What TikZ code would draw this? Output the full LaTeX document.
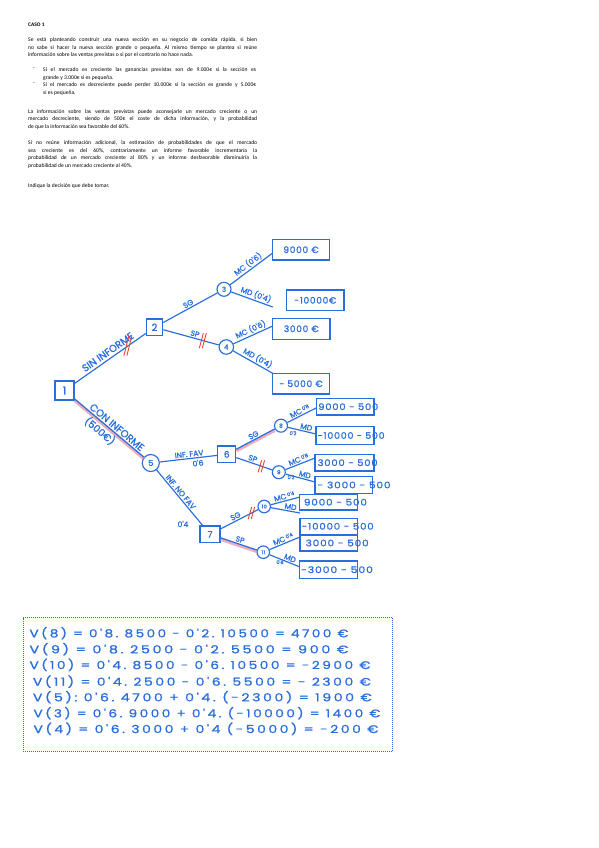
\documentclass[tikz,border=0pt]{standalone}
\usepackage{fontspec}
\usepackage{graphicx}
\usetikzlibrary{calc}
\newfontfamily\bodyf{Carlito}
\newfontfamily\hand[LetterSpace=8,FakeBold=1.1]{Poppins}
\newfontfamily\handr[FakeBold=1.1]{Poppins}
\newfontfamily\handw[LetterSpace=18,FakeBold=0.8]{Poppins}
\definecolor{inkc}{RGB}{40,110,220}
\definecolor{hlc}{RGB}{225,140,165}
\definecolor{cutc}{RGB}{232,70,50}
\newcommand\fitw[2]{\resizebox{#1}{\height}{#2}}
\newcommand\sline[1]{\makebox[229pt][s]{#1}}
\newcommand\bline[1]{\makebox[213pt][s]{#1}}
\newcommand\smallsup[1]{\raisebox{1.8pt}{\fontsize{5}{5}\selectfont #1}}
\frenchspacing
\begin{document}
\begin{tikzpicture}[x=1pt,y=-1pt,
 edge/.style={draw=inkc, line width=1.15pt},
 sqn/.style={draw=inkc, line width=1.15pt, rectangle, inner sep=0pt, text=inkc, font=\hand\fontsize{9}{9}\selectfont},
 cin/.style={draw=inkc, line width=1.15pt, circle, inner sep=0pt, text=inkc, font=\hand\fontsize{7}{7}\selectfont},
 vbox/.style={draw=inkc, line width=1.15pt, rectangle, inner sep=0pt, text=inkc, font=\hand\fontsize{9}{9}\selectfont},
 vtxt/.style={text=inkc, inner sep=0pt, anchor=west, font=\hand\fontsize{9}{9}\selectfont},
 elab/.style={text=inkc, inner sep=1.2pt, sloped, font=\handr\fontsize{7.6}{7.6}\selectfont},
 big/.style={text=inkc, inner sep=1.5pt, sloped, font=\handr\fontsize{10}{10}\selectfont},
 hili/.style={draw=hlc, line width=3.5pt, opacity=0.7, transform canvas={yshift=-1.3pt}},
 cutm/.style={draw=cutc, line width=0.9pt},
 para/.style={anchor=north west, inner sep=0pt, align=left, font=\bodyf\fontsize{5.6}{7.65}\selectfont},
 calcl/.style={anchor=base west, inner sep=0pt, text=inkc, font=\handw\fontsize{11}{11}\selectfont}
]
\useasboundingbox (0,0) rectangle (599,848);
\fill[white] (0,0) rectangle (599,848);

% ---------- statement text ----------
\node[para, font=\bodyf\bfseries\fontsize{5.4}{7}\selectfont] (title) at (28,23) {CASO 1};
\node[para] (p1) at (28,37.3) {\sline{Se está planteando construir una nueva sección en su negocio de comida rápida, si bien}\\
\sline{no sabe si hacer la nueva sección grande o pequeña. Al mismo tiempo se plantea si reúne}\\
información sobre las ventas previstas o si por el contrario no hace nada.};
\node[para] (d1) at (33,67.4) {-};
\node[para] (b1t) at (43,67.4) {\bline{Si el mercado es creciente las ganancias previstas son de 9.000€ si la sección es}\\
grande y 3.000€ si es pequeña.};
\node[para] (d2) at (33,82.4) {-};
\node[para] (b2t) at (43,82.4) {\bline{Si el mercado es decreciente puede perder 10.000€ si la sección es grande y 5.000€}\\
si es pequeña.};
\node[para] (p3) at (28,109) {\sline{La información sobre las ventas previstas puede aconsejarle un mercado creciente o un}\\
\sline{mercado decreciente, siendo de 500€ el coste de dicha información, y la probabilidad}\\
de que la información sea favorable del 60\%.};
\node[para] (p4) at (28,140.4) {\sline{Si no reúne información adicional, la estimación de probabilidades de que el mercado}\\
\sline{sea creciente es del 60\%, contrariamente un informe favorable incrementaría la}\\
\sline{probabilidad de un mercado creciente al 80\% y un informe desfavorable disminuiría la}\\
probabilidad de un mercado creciente al 40\%.};
\node[para] (p5) at (28,183) {Indique la decisión que debe tomar.};

% ---------- decision tree nodes ----------
\node[sqn, minimum size=19pt, font=\hand\fontsize{11}{11}\selectfont] (n1) at (64.5,390.5) {1};
\node[sqn, minimum size=16.5pt, font=\hand\fontsize{10}{10}\selectfont] (n2) at (154.5,327.3) {2};
\node[cin, minimum size=14pt] (n3) at (224,289.3) {3};
\node[cin, minimum size=14.5pt] (n4) at (226.3,347) {4};
\node[cin, minimum size=17pt, font=\hand\fontsize{8}{8}\selectfont] (n5) at (150.8,463) {5};
\node[sqn, minimum width=18pt, minimum height=16.7pt] (n6) at (226.7,454.3) {6};
\node[sqn, minimum width=20pt, minimum height=16.7pt] (n7) at (210,534.3) {7};
\node[cin, minimum size=13pt, font=\hand\fontsize{5.5}{5.5}\selectfont] (n8) at (281,425.7) {8};
\node[cin, minimum size=13pt, font=\hand\fontsize{5.5}{5.5}\selectfont] (n9) at (278.8,472.2) {9};
\node[cin, minimum size=12.5pt, font=\hand\fontsize{5}{5}\selectfont] (n10) at (264.2,506.5) {10};
\node[cin, minimum size=12.5pt, font=\hand\fontsize{5}{5}\selectfont] (n11) at (263.3,552.2) {11};

% value boxes (no information)
\node[vbox, minimum width=56.6pt, minimum height=20.7pt] (a1) at (301,249.7) {9000 €};
\node[vbox, minimum width=57.3pt, minimum height=20.7pt] (a2) at (315.3,300.3) {-10000€};
\node[vbox, minimum width=57.3pt, minimum height=21pt] (a3) at (301.3,328.8) {3000 €};
\node[vbox, minimum width=56.6pt, minimum height=20.7pt] (a4) at (301,383.7) {- 5000 €};

% value boxes (with information)
\node[vbox, minimum width=57.3pt, minimum height=16.7pt] (b1) at (345.3,406.7) {};
\node[vbox, minimum width=58pt, minimum height=17.6pt] (b2) at (345,435.5) {};
\node[vbox, minimum width=59pt, minimum height=16.7pt] (b3) at (344.5,462.7) {};
\node[vbox, minimum width=57.7pt, minimum height=16.6pt] (b4) at (343.8,485) {};
\node[vbox, minimum width=58pt, minimum height=15.7pt] (b5) at (328.3,502.2) {};
\node[vbox, minimum width=57.3pt, minimum height=16pt] (b6) at (328.7,526.3) {};
\node[vbox, minimum width=57.3pt, minimum height=16pt] (b7) at (328.7,543) {};
\node[vbox, minimum width=58pt, minimum height=17.3pt] (b8) at (328.3,569.7) {};
\node[vtxt] (t1) at ($(b1.west)+(2,0)$) {\fitw{60pt}{9000 - 500}};
\node[vtxt] (t2) at ($(b2.west)+(2,0)$) {\fitw{67pt}{-10000 - 500}};
\node[vtxt] (t3) at ($(b3.west)+(3,0)$) {\fitw{60pt}{3000 - 500}};
\node[vtxt] (t4) at ($(b4.west)+(3,0)$) {\fitw{73pt}{- 3000 - 500}};
\node[vtxt] (t5) at ($(b5.west)+(5,0)$) {\fitw{63pt}{9000 - 500}};
\node[vtxt] (t6) at ($(b6.west)+(2,0)$) {\fitw{72pt}{-10000 - 500}};
\node[vtxt] (t7) at ($(b7.west)+(6,0)$) {\fitw{63pt}{3000 - 500}};
\node[vtxt] (t8) at ($(b8.west)+(2,0)$) {\fitw{72pt}{-3000 - 500}};

% free ends of the chance branches
\coordinate (e3a) at (272.7,253);
\coordinate (e3b) at (272.7,307);
\coordinate (e4a) at (272.7,326);
\coordinate (e4b) at (272.7,373.3);
\coordinate (e8a) at (316,408);
\coordinate (e8b) at (316,434);
\coordinate (e9a) at (315,458);
\coordinate (e9b) at (315,482);
\coordinate (e10a) at (300,497);
\coordinate (e10b) at (300,513);
\coordinate (e11a) at (300,537);
\coordinate (e11b) at (300,567);

% highlights of the chosen path
\draw[hili] (n1) -- (n5);
\draw[hili] (n6) -- (n8);
\draw[hili] (n7) -- (n11);

% ---------- connectors ----------
\draw[edge] (n1) -- node[big, above=1pt, pos=0.52] {SIN INFORME} (n2);
\draw[edge] (n1) -- node[big, above, pos=0.56] {CON INFORME} (n5);
\node[big, rotate=-40, text=inkc] (cost) at (100,431) {(500€)};
\draw[edge] (n2) -- node[elab, above] {SG} (n3);
\draw[edge] (n2) -- node[elab, above, pos=0.55] {SP} (n4);
\draw[edge] (n3) -- node[elab, above] {MC (0'6)} (e3a);
\draw[edge] (n3) -- node[elab, above, pos=0.55] {MD (0'4)} (e3b);
\draw[edge] (n4) -- node[elab, above] {MC (0'6)} (e4a);
\draw[edge] (n4) -- node[elab, above, pos=0.55] {MD (0'4)} (e4b);
\draw[edge] (n5) -- node[elab, above, pos=0.52] {INF. FAV} (n6);
\node[elab, rotate=7] (p6) at (198,463) {0'6};
\draw[edge] (n5) -- node[elab, above, pos=0.45] {INF. NO FAV} (n7);
\node[elab] (p7) at (183,524) {0'4};
\draw[edge] (n6) -- node[elab, above] {SG} (n8);
\draw[edge] (n6) -- node[elab, above, pos=0.42] {SP} (n9);
\draw[edge] (n7) -- node[elab, above, pos=0.45] {SG} (n10);
\draw[edge] (n7) -- node[elab, above] {SP} (n11);
\draw[edge] (n8) -- node[elab, above] {MC\,\smallsup{0'8}} (e8a);
\draw[edge] (n8) -- node[elab, above, pos=0.62] {MD} (e8b);
\node[elab] (q8) at (293,434) {\smallsup{0'2}};
\draw[edge] (n9) -- node[elab, above] {MC\,\smallsup{0'8}} (e9a);
\draw[edge] (n9) -- node[elab, above, pos=0.62] {MD} (e9b);
\node[elab] (q9) at (291,478) {\smallsup{0'2}};
\draw[edge] (n10) -- node[elab, above] {MC\,\smallsup{0'4}} (e10a);
\draw[edge] (n10) -- node[elab, above, pos=0.65] {MD} (e10b);
\draw[edge] (n11) -- node[elab, above] {MC\,\smallsup{0'4}} (e11a);
\draw[edge] (n11) -- node[elab, above, pos=0.62] {MD} (e11b);
\node[elab] (q11) at (280,563) {\smallsup{0'6}};

% cut marks (rejected branches)
\draw[cutm] ($(n1)!0.71!(n2)+(-4.5,10)$) -- ++(5,-20);
\draw[cutm] ($(n1)!0.71!(n2)+(-1.5,10)$) -- ++(5,-20);
\draw[cutm] ($(n2)!0.68!(n4)+(-4,7.5)$) -- ++(4,-15);
\draw[cutm] ($(n2)!0.68!(n4)+(-1,7.5)$) -- ++(4,-15);
\draw[cutm] ($(n6)!0.67!(n9)+(-3.5,6)$) -- ++(3.5,-12);
\draw[cutm] ($(n6)!0.67!(n9)+(-0.5,6)$) -- ++(3.5,-12);
\draw[cutm] ($(n7)!0.77!(n10)+(-3.5,6)$) -- ++(3.5,-12);
\draw[cutm] ($(n7)!0.77!(n10)+(-0.5,6)$) -- ++(3.5,-12);

% ---------- calculations ----------
\node[draw=inkc, densely dotted, line width=1pt, minimum width=369.6pt, minimum height=133.7pt, inner sep=0pt, anchor=north west] (calcbox) at (22.7,617.3) {};
\node[calcl] (v8) at (29.3,637.3) {\fitw{319pt}{V(8) = 0'8. 8500 - 0'2. 10500 = 4700 €}};
\node[calcl] (v9) at (29.3,653.3) {\fitw{319pt}{V(9) = 0'8. 2500 - 0'2. 5500 = 900 €}};
\node[calcl] (v10) at (29.3,669) {\fitw{341pt}{V(10) = 0'4. 8500 - 0'6. 10500 = -2900 €}};
\node[calcl] (v11) at (32.7,685.7) {\fitw{338pt}{V(11) = 0'4. 2500 - 0'6. 5500 = - 2300 €}};
\node[calcl] (v5) at (32.7,701.3) {\fitw{339pt}{V(5): 0'6. 4700 + 0'4. (-2300) = 1900 €}};
\node[calcl] (v3) at (33.3,717.3) {\fitw{347pt}{V(3) = 0'6. 9000 + 0'4. (-10000) = 1400 €}};
\node[calcl] (v4) at (33.3,733) {\fitw{345pt}{V(4) = 0'6. 3000 + 0'4 (-5000) = -200 €}};
\end{tikzpicture}
\end{document}
